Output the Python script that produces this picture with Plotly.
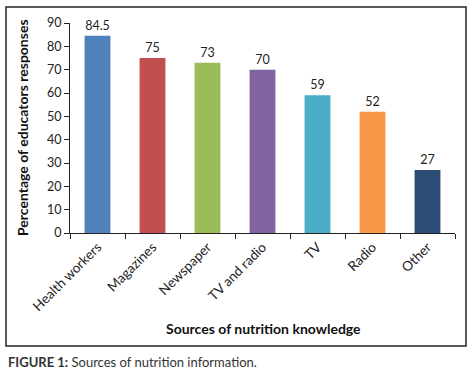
import plotly.graph_objects as go

categories = ["Health workers", "Magazines", "Newspaper", "TV and radio", "TV", "Radio", "Other"]
values = [84.5, 75, 73, 70, 59, 52, 27]
labels = ["84.5", "75", "73", "70", "59", "52", "27"]
colors = ["#4F81BD", "#C0504D", "#9BBB59", "#8064A2", "#4BACC6", "#F79646", "#2C4D75"]

FONT = "Lato, 'Open Sans', Arial, sans-serif"

fig = go.Figure(go.Bar(
    x=categories, y=values, marker_color=colors, marker_line_width=0,
    text=labels, textposition="outside", cliponaxis=False,
    textfont=dict(size=12.5, color="#222222", family=FONT),
))

W, H = 472, 376
L, R, T, B = 70, 17, 23, 143
pw, ph = W - L - R, H - T - B

def px(x):
    return (x - L) / pw

def py(y):
    return (H - B - y) / ph

fig.update_layout(
    width=W, height=H,
    margin=dict(l=L, r=R, t=T, b=B, pad=0),
    paper_bgcolor="white", plot_bgcolor="white",
    font=dict(family=FONT, size=12, color="#222222"),
    bargap=0.53,
    showlegend=False,
    xaxis=dict(
        tickangle=-45, tickson="boundaries", ticks="outside", ticklen=5,
        tickcolor="#222", showline=True, linecolor="#222", linewidth=1,
        showgrid=False, tickfont=dict(size=13.5, color="#222222"),
    ),
    yaxis=dict(
        range=[0, 90], dtick=10, ticks="outside", ticklen=5, tickcolor="#222",
        showline=True, linecolor="#222", linewidth=1, showgrid=False,
        zeroline=False, tickfont=dict(size=12.5, color="#222222"),
    ),
    shapes=[dict(
        type="rect", xref="paper", yref="paper",
        x0=px(6), x1=px(466), y0=py(346), y1=py(7),
        line=dict(color="#222222", width=1.5), fillcolor="rgba(0,0,0,0)",
        layer="below",
    )],
    annotations=[
        dict(text="<b>Percentage of educators responses</b>", xref="paper", yref="paper",
             x=px(22), y=py(128), textangle=-90, showarrow=False,
             xanchor="center", yanchor="middle", font=dict(size=14, color="#111111")),
        dict(text="<b>Sources of nutrition knowledge</b>", xref="paper", yref="paper",
             x=px(263), y=py(328), showarrow=False,
             xanchor="center", yanchor="middle", font=dict(size=14, color="#111111")),
        dict(text="<b>FIGURE 1:</b> Sources of nutrition information.", xref="paper", yref="paper",
             x=px(6), y=py(362), showarrow=False,
             xanchor="left", yanchor="middle", font=dict(size=13, color="#333333")),
    ],
)

fig.write_html(
    "out.html",
    config={"displayModeBar": False},
    post_script="document.body.style.margin='0';document.body.style.padding='0';",
)
